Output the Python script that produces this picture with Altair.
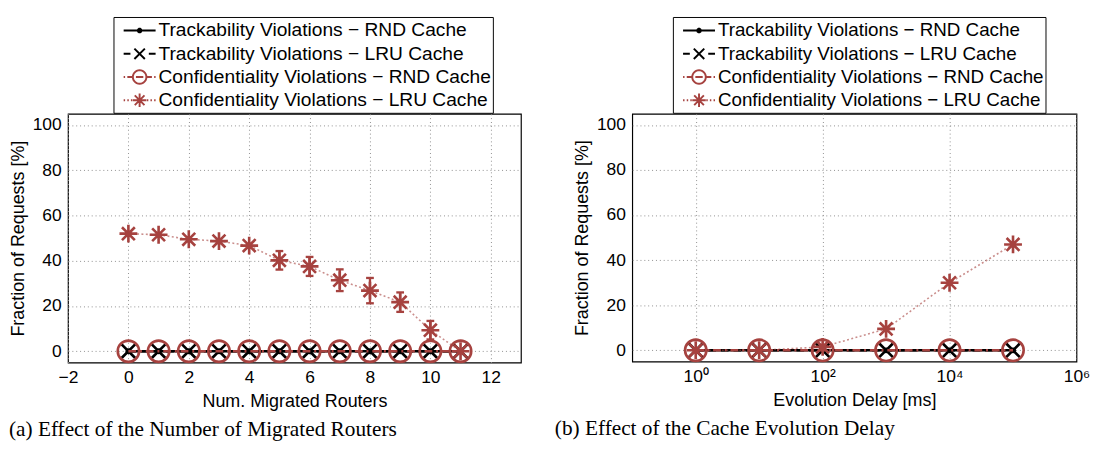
import math
import altair as alt
import pandas as pd

FONT = "Liberation Sans"
SERIF = "Liberation Serif"
RED = "#A6423F"
BLACK = "#000000"

SERIES = [
    "Trackability Violations − RND Cache",
    "Trackability Violations − LRU Cache",
    "Confidentiality Violations − RND Cache",
    "Confidentiality Violations − LRU Cache",
]
COLORS = [BLACK, BLACK, RED, RED]

# ---- panel (a): number of migrated routers
a_x = [0, 1, 2, 3, 4, 5, 6, 7, 8, 9, 10, 11]
a_track_rnd = [0, 0, 0, 0, 0, 0, 0, 0, 0, 0, 0, 0]
a_track_lru = [0, 0, 0, 0, 0, 0, 0, 0, 0, 0, 0, 0]
a_conf_rnd = [0, 0, 0, 0, 0, 0, 0, 0, 0, 0, 0, 0]
a_conf_lru = [52.0, 51.5, 49.5, 48.7, 46.7, 40.2, 37.5, 31.4, 26.8, 21.7, 9.3, 0.0]
a_conf_lru_err = [0, 0, 0, 0, 0, 4.1, 4.2, 4.8, 5.6, 4.3, 4.1, 0]
a_xticks = [-2, 0, 2, 4, 6, 8, 10, 12]

# ---- panel (b): cache evolution delay
b_x = [1, 10, 100, 1000, 10000, 100000]
b_track_rnd = [0, 0, 0, 0, 0, 0]
b_track_lru = [0, 0, 0, 0, 0, 0]
b_conf_rnd = [0, 0, 0, 0, 0, 0]
b_conf_lru = [0.0, 0.0, 1.5, 9.5, 30.0, 47.0]
b_xticks = [1, 100, 10000, 1000000]
b_xtick_labels = ["10⁰", "10²", "10⁴", "10⁶"]

yticks = [0, 20, 40, 60, 80, 100]

# marker shapes
AST = "M-1,0L1,0M0,-1L0,1M-0.72,-0.72L0.72,0.72M-0.72,0.72L0.72,-0.72"
XMARK = "M-1,-1L1,1M-1,1L1,-1"
CAP = "M-1,0L1,0"

STYLES = [
    dict(color=BLACK, lw=2.7, dash=None, lo=1.0, shape="circle", size=36, filled=True, mw=1),
    dict(color=BLACK, lw=2.7, dash=[8, 5], lo=1.0, shape=XMARK, size=196, filled=False, mw=2.7),
    dict(color=RED, lw=2.7, dash=[8, 4, 2, 4], lo=1.0, shape="circle", size=484, filled=False, mw=2.7),
    dict(color=RED, lw=1.6, dash=[2, 2.5], lo=0.6, shape=AST, size=340, filled=False, mw=2.7),
]

# legend symbols (line sample + marker), drawn in pixel units then scaled to the symbol unit
LEG_SIZE = 506
U = math.sqrt(LEG_SIZE) / 2.0  # pixels per path unit


def f(v):
    return f"{v / U:.3f}"


def ring(r, n=28):
    pts = [(r * math.cos(2 * math.pi * k / n), r * math.sin(2 * math.pi * k / n)) for k in range(n)]
    return "M" + "L".join(f"{f(x)},{f(y)}" for x, y in pts) + "Z"


def hseg(pairs):
    return "".join(f"M{f(a)},0H{f(b)}" for a, b in pairs)


def cross(h):
    return f"M{f(-h)},{f(-h)}L{f(h)},{f(h)}M{f(-h)},{f(h)}L{f(h)},{f(-h)}"


LEGEND_PATHS = [
    hseg([(-16.5, 16.5)]) + ring(1.9, 10),
    hseg([(-16.5, -9.5), (9.5, 16.5)]) + cross(5.4),
    hseg([(-16.5, -15), (-12.7, -7.5), (-3.8, 3.8), (7.5, 12.7), (15, 16.5)]) + ring(7.0),
    hseg([(-16.5, -15), (-12.7, -11.2), (-9, -7.5), (7.5, 9), (11.2, 12.7), (15, 16.5), (-7, 7)])
    + f"M0,{f(-7)}V{f(7)}" + cross(5.0),
]


def panel(xs, series_vals, err, xscale, xaxis, legend_x, legend_fs, caption, caption_dx, width, height):
    yscale = alt.Scale(domain=[-5, 105], nice=False, zero=False)
    yaxis = alt.Axis(values=yticks, title="Fraction of Requests [%]")
    X = alt.X("x:Q", scale=xscale, axis=xaxis)
    layers = []
    for i, (vals, st) in enumerate(zip(series_vals, STYLES)):
        df = pd.DataFrame({"x": xs, "y": vals, "series": SERIES[i]})
        Y = alt.Y("y:Q", scale=yscale, axis=yaxis)
        line_kw = dict(color=st["color"], strokeWidth=st["lw"], opacity=st["lo"])
        if st["dash"]:
            line_kw["strokeDash"] = st["dash"]
        layers.append(alt.Chart(df).mark_line(**line_kw).encode(x=X, y=Y))
        if i == 3 and err is not None:
            edf = df.assign(err=err)
            eb = alt.Chart(edf).transform_filter("datum.err > 0").transform_calculate(
                lo="datum.y - datum.err", hi="datum.y + datum.err")
            layers.append(eb.mark_rule(color=RED, strokeWidth=2.4).encode(
                x=X, y=alt.Y("lo:Q", scale=yscale, axis=yaxis), y2="hi:Q"))
            for fld in ["lo", "hi"]:
                layers.append(eb.mark_point(shape=CAP, size=64, color=RED, strokeWidth=2.4,
                                            filled=False, opacity=1).encode(
                    x=X, y=alt.Y(fld + ":Q", scale=yscale, axis=yaxis)))
        layers.append(alt.Chart(df).mark_point(shape=st["shape"], size=st["size"], filled=st["filled"],
                                               color=st["color"], strokeWidth=st["mw"], opacity=1)
                      .encode(x=X, y=Y))
    leg = alt.Legend(orient="none", legendX=legend_x, legendY=-100, title=None,
                     labelFont=FONT, labelFontSize=legend_fs, labelColor="black", labelLimit=600,
                     symbolSize=LEG_SIZE, symbolStrokeWidth=2.0, symbolOffset=13, labelOffset=7,
                     rowPadding=0, gridAlign="all", padding=1.5, strokeColor="black",
                     fillColor="white", symbolOpacity=1)
    legend_layer = alt.Chart(pd.DataFrame({"series": SERIES})).transform_filter("false").mark_point(
        filled=False, opacity=1).encode(
        shape=alt.Shape("series:N", scale=alt.Scale(domain=SERIES, range=LEGEND_PATHS), legend=leg),
        color=alt.Color("series:N", scale=alt.Scale(domain=SERIES, range=COLORS), legend=leg),
    )
    layers.append(legend_layer)
    return alt.layer(*layers).properties(
        width=width, height=height,
        title=alt.TitleParams(text=caption, orient="bottom", anchor="start", font=SERIF,
                              fontSize=22, fontWeight="normal", color="black", offset=10, dx=caption_dx),
    )


left = panel(
    a_x, [a_track_rnd, a_track_lru, a_conf_rnd, a_conf_lru], a_conf_lru_err,
    alt.Scale(domain=[-2, 13], nice=False, zero=False),
    alt.Axis(values=a_xticks, title="Num. Migrated Routers", labelFlush=False),
    47, 19.8, "(a)  Effect of the Number of Migrated Routers", 0, 468, 257,
)

label_expr = " : ".join(
    f"datum.value == {v} ? '{l}'" for v, l in zip(b_xticks[:-1], b_xtick_labels[:-1])
) + f" : '{b_xtick_labels[-1]}'"

right = panel(
    b_x, [b_track_rnd, b_track_lru, b_conf_rnd, b_conf_lru], None,
    alt.Scale(type="log", domain=[0.1, 1000000], nice=False),
    alt.Axis(values=b_xticks, title="Evolution Delay [ms]", labelExpr=label_expr, labelFlush=False),
    42, 19.4, "(b)  Effect of the Cache Evolution Delay", -19, 459, 256,
)

chart = (
    alt.hconcat(left, right, spacing=33)
    .resolve_scale(x="independent", y="independent", shape="independent", color="independent")
    .resolve_legend(shape="independent", color="independent")
    .properties(padding={"left": 0, "top": 0, "right": 0, "bottom": 0}, background="white")
    .configure_view(stroke="black", strokeWidth=1.2)
    .configure_axis(
        labelFont=FONT, labelFontSize=18, labelColor="black",
        titleFont=FONT, titleFontSize=18.5, titleFontWeight="normal", titleColor="black",
        domain=False, ticks=False, grid=True, gridColor="#8c8c8c", gridDash=[1, 3], gridWidth=1,
        gridOpacity=1, labelPadding=7, titlePadding=5,
    )
)

chart.save("out.html", embed_options={"renderer": "svg", "actions": False})
